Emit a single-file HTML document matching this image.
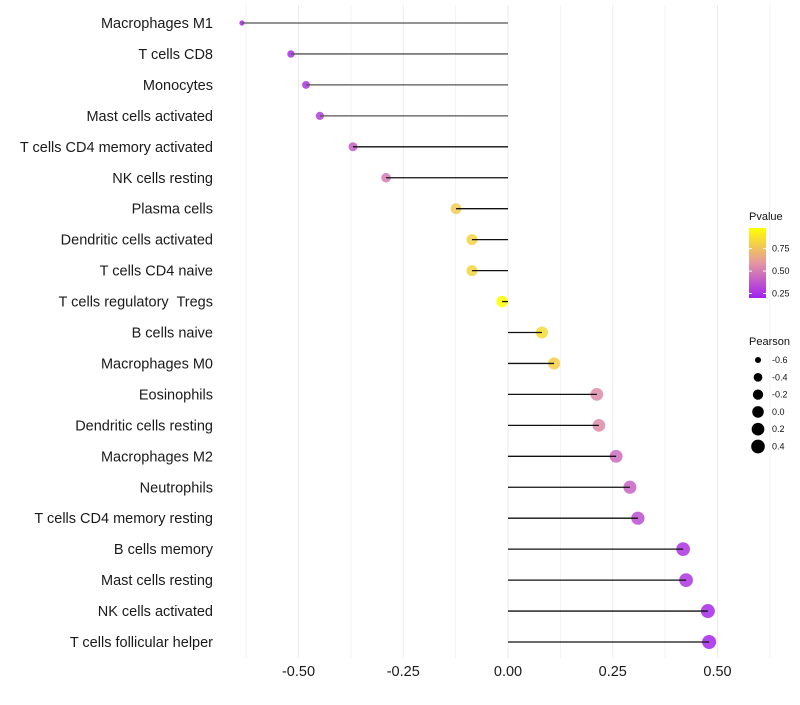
<!DOCTYPE html>
<html><head><meta charset="utf-8"><style>
body{margin:0;background:#fff;font-family:"Liberation Sans",sans-serif;}
svg text{font-family:"Liberation Sans",sans-serif;white-space:pre;}
</style></head><body>
<svg id="chart" width="800" height="700"></svg>
<script>
const categories=["Macrophages M1","T cells CD8","Monocytes","Mast cells activated","T cells CD4 memory activated","NK cells resting","Plasma cells","Dendritic cells activated","T cells CD4 naive","T cells regulatory  Tregs","B cells naive","Macrophages M0","Eosinophils","Dendritic cells resting","Macrophages M2","Neutrophils","T cells CD4 memory resting","B cells memory","Mast cells resting","NK cells activated","T cells follicular helper"];
const pearson=[-0.635,-0.518,-0.482,-0.449,-0.37,-0.291,-0.124,-0.086,-0.086,-0.014,0.081,0.11,0.212,0.217,0.258,0.291,0.31,0.418,0.425,0.477,0.48];
const pvalue=[0.22,0.25,0.27,0.3,0.4,0.5,0.78,0.82,0.82,0.98,0.85,0.8,0.55,0.55,0.45,0.42,0.35,0.27,0.27,0.23,0.22];
const xTicks=[-0.5,-0.25,0,0.25,0.5];
const xTickLabels=["-0.50","-0.25","0.00","0.25","0.50"];
const xMinor=[-0.625,-0.375,-0.125,0.125,0.375,0.625];
const pTicks=[0.25,0.5,0.75];
const sizeTicks=[-0.6,-0.4,-0.2,0.0,0.2,0.4];

const NS="http://www.w3.org/2000/svg";
const svg=document.getElementById('chart');
const x=v=>508+v*419;
const y=i=>23+i*30.95;
const pMin=0.2,pMax=0.98;
const r=v=>2+5*Math.sqrt(Math.max(0,(v+0.65)/1.13));
function lerp(a,b,t){return a.map((c,k)=>Math.round(c+(b[k]-c)*t));}
function col(p){const t=Math.min(1,Math.max(0,(p-pMin)/(pMax-pMin)));
 const A=[160,32,240],M=[229,151,160],B=[255,255,0];
 const c=t<0.5?lerp(A,M,t/0.5):lerp(M,B,(t-0.5)/0.5);return `rgb(${c})`;}
const py=p=>298-(p-pMin)/(pMax-pMin)*70;
function el(t,a,parent){const e=document.createElementNS(NS,t);for(const k in a)e.setAttribute(k,a[k]);(parent||svg).appendChild(e);return e;}

xMinor.forEach(v=>{const g=el('line',{x1:x(v),x2:x(v),y1:5,y2:658,stroke:'#f2f2f2','stroke-width':1});

});
xTicks.forEach((v,i)=>{const g=el('line',{x1:x(v),x2:x(v),y1:5,y2:658,stroke:'#ebebeb','stroke-width':1});


const t=el('text',{x:x(v),y:676,'text-anchor':'middle','font-size':14.5,fill:'#1a1a1a'});t.textContent=xTickLabels[i];

});

categories.forEach((c,i)=>{
 const l=el('text',{x:213,y:y(i)+5,'text-anchor':'end','font-size':14.5,fill:'#1a1a1a'});l.textContent=c;
 
 
 const d=el('circle',{cx:x(pearson[i]),cy:y(i),r:r(pearson[i]),fill:col(pvalue[i]),'fill-opacity':0.85});
 
 
 const s=el('line',{x1:x(0),x2:x(pearson[i]),y1:y(i),y2:y(i),stroke:i<4?'#555':'#111','stroke-width':1.3});
 
 
});

// legend
const lt=el('text',{x:749,y:220,'font-size':11,fill:'#111'});lt.textContent='Pvalue';


const defs=el('defs',{});const lg=el('linearGradient',{id:'pg',x1:0,y1:1,x2:0,y2:0},defs);
[0,0.25,0.5,0.75,1].forEach(f=>el('stop',{offset:f,'stop-color':col(pMin+f*(pMax-pMin))},lg));
const cb=el('rect',{x:749,y:228,width:17,height:70,fill:'url(#pg)'});


pTicks.forEach(p=>{el('line',{x1:749,x2:752,y1:py(p),y2:py(p),stroke:'#fff'});el('line',{x1:763,x2:766,y1:py(p),y2:py(p),stroke:'#fff'});
 const t=el('text',{x:772,y:py(p)+3,'font-size':9,fill:'#111'});t.textContent=p.toFixed(2);
 
 });
const st=el('text',{x:749,y:345,'font-size':11,fill:'#111'});st.textContent='Pearson';


sizeTicks.forEach((v,i)=>{const cy=360+i*17.3;
 const c=el('circle',{cx:758,cy:cy,r:r(v),fill:'#000'});
 
 
 const t=el('text',{x:772,y:cy+3,'font-size':9,fill:'#111'});t.textContent=v.toFixed(1);
 
 });
</script>
</body></html>
